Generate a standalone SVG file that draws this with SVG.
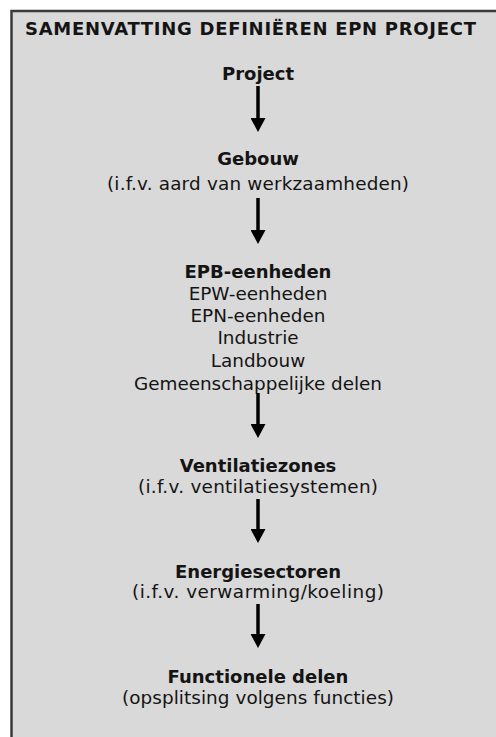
<svg xmlns="http://www.w3.org/2000/svg" width="496" height="737" viewBox="0 0 496 737">
<style>
.t{font-family:"DejaVu Sans",Verdana,sans-serif;font-size:18px;fill:#141414;text-anchor:middle}
.r{font-size:18.4px}
.b{font-weight:bold}
.c{stroke:#000;stroke-width:3.5;fill:none;marker-end:url(#ah)}
</style>
<defs>
<marker id="ah" markerUnits="userSpaceOnUse" markerWidth="14" markerHeight="15" viewBox="0 0 14 15" refX="0" refY="7.5" orient="auto">
<path d="M0,0 L14,7.5 L0,15 z" fill="#000"/>
</marker>
</defs>
<rect x="0" y="0" width="496" height="737" fill="#fff"/>
<rect id="frame" x="11.5" y="11" width="500" height="740" fill="#d9d9d9" stroke="#3a3a3a" stroke-width="2.5"/>
<g id="title"><text class="t b" x="250.5" y="35" textLength="451" lengthAdjust="spacing">SAMENVATTING DEFINIËREN EPN PROJECT</text></g>
<g id="project"><text class="t b" x="258" y="80">Project</text></g>
<g id="gebouw"><text class="t b" x="258" y="165">Gebouw</text><text class="t r" x="258" y="190" textLength="302" lengthAdjust="spacing">(i.f.v. aard van werkzaamheden)</text></g>
<g id="epb"><text class="t b" x="258" y="278">EPB-eenheden</text><text class="t r" x="258" y="300">EPW-eenheden</text><text class="t r" x="258" y="322">EPN-eenheden</text><text class="t r" x="258" y="344">Industrie</text><text class="t r" x="258" y="367">Landbouw</text><text class="t r" x="258" y="390" textLength="248" lengthAdjust="spacing">Gemeenschappelijke delen</text></g>
<g id="ventilatie"><text class="t b" x="258" y="472">Ventilatiezones</text><text class="t r" x="258" y="493" textLength="240" lengthAdjust="spacing">(i.f.v. ventilatiesystemen)</text></g>
<g id="energie"><text class="t b" x="258" y="578">Energiesectoren</text><text class="t r" x="258" y="598" textLength="252" lengthAdjust="spacing">(i.f.v. verwarming/koeling)</text></g>
<g id="functioneel"><text class="t b" x="258" y="683">Functionele delen</text><text class="t r" x="258" y="704" textLength="272" lengthAdjust="spacing">(opsplitsing volgens functies)</text></g>
<g id="connectors">
<line class="c" x1="258" y1="86" x2="258" y2="118"/>
<line class="c" x1="258" y1="198" x2="258" y2="230"/>
<line class="c" x1="258" y1="393" x2="258" y2="424"/>
<line class="c" x1="258" y1="499" x2="258" y2="529"/>
<line class="c" x1="258" y1="604" x2="258" y2="634"/>
</g>
</svg>
